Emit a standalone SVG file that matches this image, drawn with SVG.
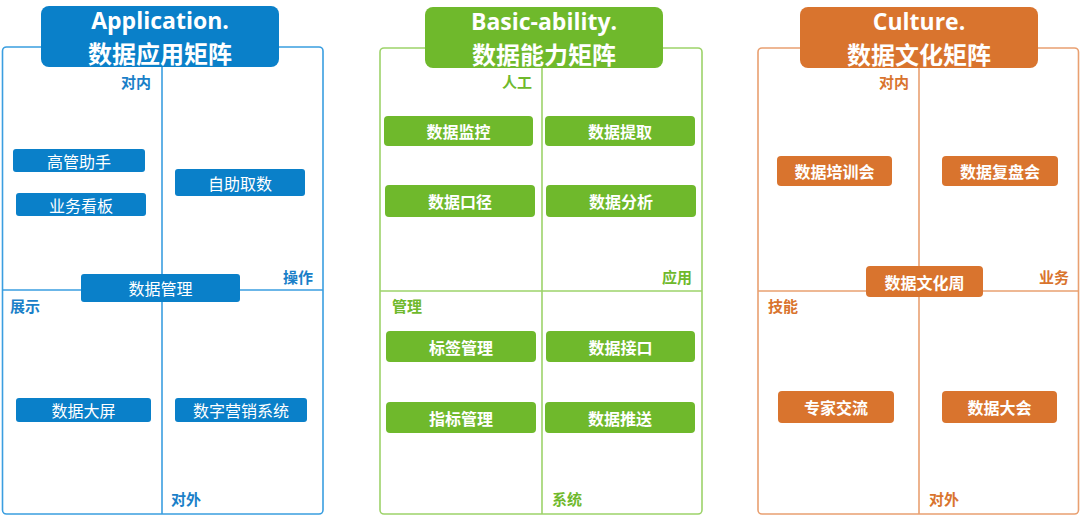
<svg xmlns="http://www.w3.org/2000/svg" width="1080" height="520" viewBox="0 0 1080 520">
<style>
.frame{fill:none;stroke-width:1.6}
.div{stroke-width:1.6}
.ttl{font-family:"Open Sans","Noto Sans CJK SC",sans-serif;font-weight:700;font-size:23px;fill:#fff;text-anchor:middle}
.ttl2{font-family:"Noto Sans CJK SC",sans-serif;font-weight:700;font-size:24px;fill:#fff;text-anchor:middle}
.nt{font-family:"Noto Sans CJK SC",sans-serif;font-size:16px;fill:#fff;text-anchor:middle;dominant-baseline:central}
.nb{font-weight:700}
.lb{font-family:"Noto Sans CJK SC",sans-serif;font-size:15px;font-weight:700}
.blue .frame,.blue .div{stroke:#3a9ee0}
.blue .box{fill:#0a80c9}
.blue .lb{fill:#1a7fc8}
.green .frame,.green .div{stroke:#9dd36a}
.green .box{fill:#6fb92c}
.green .lb{fill:#6fb92c}
.orange .frame,.orange .div{stroke:#e9a071}
.orange .box{fill:#d9742e}
.orange .lb{fill:#d9742e}
</style>

<!-- Panel 1: Application -->
<g id="panel-application" class="blue">
  <rect class="frame" x="2.5" y="47" width="320.5" height="467" rx="4"/>
  <line class="div" x1="162" y1="67" x2="162" y2="514"/>
  <line class="div" x1="2.5" y1="290" x2="323" y2="290"/>
  <g id="title-application">
    <rect class="box" x="41" y="6" width="238" height="61" rx="8"/>
    <text class="ttl" x="160" y="29">Application.</text>
    <text class="ttl2" x="160" y="62.5">数据应用矩阵</text>
  </g>
  <text class="lb" x="151" y="88" text-anchor="end">对内</text>
  <text class="lb" x="313" y="283" text-anchor="end">操作</text>
  <text class="lb" x="10" y="312">展示</text>
  <text class="lb" x="171" y="505">对外</text>
  <g id="n-gaoguan"><rect class="box" x="13" y="149" width="132" height="23" rx="3"/><text class="nt" x="79" y="160.5">高管助手</text></g>
  <g id="n-yewukanban"><rect class="box" x="16" y="193" width="130" height="23" rx="3"/><text class="nt" x="81" y="204.5">业务看板</text></g>
  <g id="n-zizhuqushu"><rect class="box" x="175" y="169" width="130" height="27" rx="3"/><text class="nt" x="240" y="182.5">自助取数</text></g>
  <g id="n-shujuguanli"><rect class="box" x="81" y="274" width="159" height="28" rx="3"/><text class="nt" x="160.5" y="288">数据管理</text></g>
  <g id="n-shujudaping"><rect class="box" x="16" y="398" width="135" height="24" rx="3"/><text class="nt" x="83.5" y="410">数据大屏</text></g>
  <g id="n-yingxiao"><rect class="box" x="175" y="398" width="132" height="24" rx="3"/><text class="nt" x="241" y="410">数字营销系统</text></g>
</g>

<!-- Panel 2: Basic-ability -->
<g id="panel-basic" class="green">
  <rect class="frame" x="380" y="48" width="322" height="466" rx="4"/>
  <line class="div" x1="542" y1="68" x2="542" y2="514"/>
  <line class="div" x1="380" y1="291" x2="702" y2="291"/>
  <g id="title-basic">
    <rect class="box" x="425" y="7" width="238" height="61" rx="8"/>
    <text class="ttl" x="544" y="30">Basic-ability.</text>
    <text class="ttl2" x="544" y="63.5">数据能力矩阵</text>
  </g>
  <text class="lb" x="532" y="88" text-anchor="end">人工</text>
  <text class="lb" x="692" y="283" text-anchor="end">应用</text>
  <text class="lb" x="392" y="312">管理</text>
  <text class="lb" x="552" y="505">系统</text>
  <g id="n-jiankong"><rect class="box" x="384" y="116" width="149" height="30" rx="4"/><text class="nt nb" x="458.5" y="131">数据监控</text></g>
  <g id="n-tiqu"><rect class="box" x="545" y="116" width="150" height="30" rx="4"/><text class="nt nb" x="620" y="131">数据提取</text></g>
  <g id="n-koujing"><rect class="box" x="385" y="185" width="150" height="32" rx="4"/><text class="nt nb" x="460" y="201">数据口径</text></g>
  <g id="n-fenxi"><rect class="box" x="546" y="185" width="150" height="32" rx="4"/><text class="nt nb" x="621" y="201">数据分析</text></g>
  <g id="n-biaoqian"><rect class="box" x="386" y="331" width="150" height="31" rx="4"/><text class="nt nb" x="461" y="346.5">标签管理</text></g>
  <g id="n-jiekou"><rect class="box" x="546" y="331" width="149" height="31" rx="4"/><text class="nt nb" x="620.5" y="346.5">数据接口</text></g>
  <g id="n-zhibiao"><rect class="box" x="386" y="402" width="150" height="31" rx="4"/><text class="nt nb" x="461" y="417.5">指标管理</text></g>
  <g id="n-tuisong"><rect class="box" x="545" y="402" width="150" height="31" rx="4"/><text class="nt nb" x="620" y="417.5">数据推送</text></g>
</g>

<!-- Panel 3: Culture -->
<g id="panel-culture" class="orange">
  <rect class="frame" x="758" y="48" width="320.5" height="466" rx="4"/>
  <line class="div" x1="919" y1="68" x2="919" y2="514"/>
  <line class="div" x1="758" y1="291" x2="1078.5" y2="291"/>
  <g id="title-culture">
    <rect class="box" x="800" y="7" width="238" height="61" rx="8"/>
    <text class="ttl" x="919" y="30">Culture.</text>
    <text class="ttl2" x="919" y="63.5">数据文化矩阵</text>
  </g>
  <text class="lb" x="909" y="88" text-anchor="end">对内</text>
  <text class="lb" x="1069" y="283" text-anchor="end">业务</text>
  <text class="lb" x="768" y="312">技能</text>
  <text class="lb" x="929" y="505">对外</text>
  <g id="n-peixun"><rect class="box" x="777" y="156" width="115" height="30" rx="4"/><text class="nt nb" x="834.5" y="171">数据培训会</text></g>
  <g id="n-fupan"><rect class="box" x="942" y="156" width="116" height="30" rx="4"/><text class="nt nb" x="1000" y="171">数据复盘会</text></g>
  <g id="n-wenhuazhou"><rect class="box" x="866" y="266" width="117" height="31" rx="4"/><text class="nt nb" x="924.5" y="281.5">数据文化周</text></g>
  <g id="n-zhuanjia"><rect class="box" x="778" y="391" width="116" height="32" rx="4"/><text class="nt nb" x="836" y="407">专家交流</text></g>
  <g id="n-dahui"><rect class="box" x="942" y="391" width="115" height="32" rx="4"/><text class="nt nb" x="999.5" y="407">数据大会</text></g>
</g>
</svg>
